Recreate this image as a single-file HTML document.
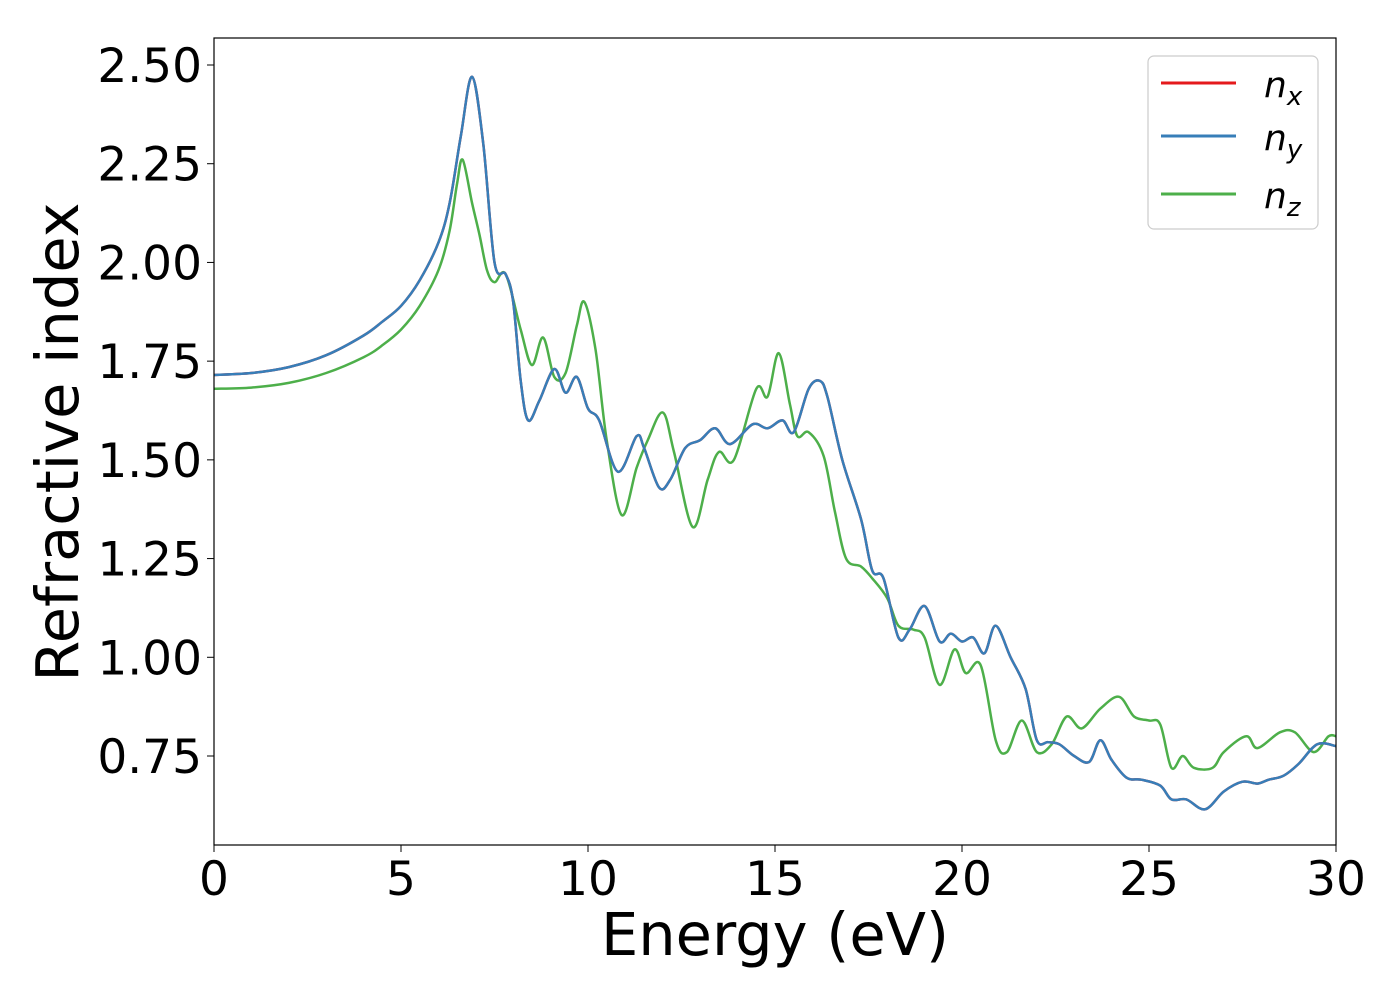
<!DOCTYPE html>
<html><head><meta charset="utf-8"><style>
body{margin:0;background:#fff}
svg text{font-family:"DejaVu Sans","Liberation Sans",sans-serif}
</style></head><body>
<svg id="chart" width="1400" height="1000" xmlns="http://www.w3.org/2000/svg">
<rect width="1400" height="1000" fill="#fff"/>
<g id="series"></g>
<rect x="214" y="38" width="1122" height="807" fill="none" stroke="#000" stroke-width="1.2"/>
<g id="axes"></g>
<text x="775" y="955" font-size="59" text-anchor="middle">Energy (eV)</text>
<text x="78" y="442" font-size="59" text-anchor="middle" transform="rotate(-90 78 442)">Refractive index</text>
<g>
<rect x="1148" y="56" width="170" height="173" rx="6" fill="#fff" stroke="#ccc" stroke-width="1.2"/>
<line x1="1161" y1="83" x2="1236" y2="83" stroke="#e41a1c" stroke-width="3"/>
<text x="1264" y="97" font-size="36" font-style="italic">n<tspan font-size="26" dy="8">x</tspan></text>
<line x1="1161" y1="136" x2="1236" y2="136" stroke="#377eb8" stroke-width="3"/>
<text x="1264" y="150" font-size="36" font-style="italic">n<tspan font-size="26" dy="8">y</tspan></text>
<line x1="1161" y1="194" x2="1236" y2="194" stroke="#4daf4a" stroke-width="3"/>
<text x="1264" y="208" font-size="36" font-style="italic">n<tspan font-size="26" dy="8">z</tspan></text>
</g>
</svg>
<script>
const xyEnergy=[0,1,2,3,4,4.5,5,5.5,6,6.3,6.6,6.9,7.2,7.5,7.8,8.0,8.2,8.4,8.7,9.1,9.4,9.7,10.0,10.3,10.8,11.3,11.5,11.9,12.2,12.6,13.0,13.4,13.8,14.4,14.8,15.2,15.5,15.9,16.2,16.4,16.8,17.3,17.6,17.9,18.3,18.6,19.0,19.4,19.7,20.0,20.3,20.6,20.9,21.3,21.7,22.0,22.3,22.6,23.0,23.4,23.7,24.0,24.4,24.8,25.3,25.6,26.0,26.5,27.0,27.5,27.9,28.2,28.6,29.0,29.5,30];
const nxValues=[1.715,1.72,1.735,1.765,1.815,1.85,1.89,1.955,2.05,2.15,2.32,2.47,2.30,2.0,1.97,1.90,1.70,1.60,1.65,1.73,1.67,1.71,1.63,1.60,1.47,1.56,1.53,1.43,1.45,1.53,1.55,1.58,1.54,1.59,1.58,1.60,1.57,1.68,1.70,1.66,1.50,1.35,1.22,1.20,1.05,1.07,1.13,1.04,1.06,1.04,1.05,1.01,1.08,1.00,0.92,0.79,0.785,0.78,0.75,0.735,0.79,0.74,0.695,0.69,0.675,0.64,0.64,0.615,0.66,0.685,0.68,0.69,0.70,0.73,0.78,0.775];
const nyValues=nxValues.slice();
const zEnergy=[0,1,2,3,4,4.5,5,5.5,6,6.3,6.5,6.65,6.9,7.1,7.3,7.5,7.8,8.2,8.5,8.8,9.1,9.4,9.7,9.9,10.2,10.5,10.9,11.3,11.6,12.0,12.3,12.8,13.2,13.5,13.9,14.5,14.8,15.1,15.4,15.6,15.9,16.3,16.6,16.9,17.3,17.6,18.0,18.3,18.7,19.0,19.4,19.8,20.1,20.5,20.9,21.2,21.6,22.0,22.4,22.8,23.2,23.7,24.2,24.6,25.0,25.3,25.6,25.9,26.2,26.7,27.0,27.6,27.9,28.5,28.9,29.4,29.8,30];
const nzValues=[1.68,1.683,1.695,1.72,1.76,1.79,1.83,1.89,1.98,2.08,2.2,2.26,2.15,2.07,1.98,1.95,1.97,1.83,1.74,1.81,1.71,1.72,1.84,1.90,1.78,1.55,1.36,1.48,1.55,1.62,1.52,1.33,1.45,1.52,1.50,1.68,1.66,1.77,1.64,1.56,1.57,1.51,1.37,1.25,1.23,1.20,1.15,1.08,1.07,1.05,0.93,1.02,0.96,0.98,0.79,0.76,0.84,0.76,0.78,0.85,0.82,0.87,0.90,0.85,0.84,0.83,0.72,0.75,0.72,0.72,0.76,0.80,0.77,0.81,0.81,0.76,0.80,0.80];
const xTicks=[0,5,10,15,20,25,30];
const xTickLabels=["0","5","10","15","20","25","30"];
const yTicks=[0.75,1.0,1.25,1.5,1.75,2.0,2.25,2.5];
const yTickLabels=["0.75","1.00","1.25","1.50","1.75","2.00","2.25","2.50"];

const NS='http://www.w3.org/2000/svg';
const sx=v=>214+(v-0)/30*1122;
const sy=v=>756-(v-0.75)*(691/1.75);
function pathFrom(xs,ys){
  const p=xs.map((x,i)=>[sx(x),sy(ys[i])]);
  let d='M'+p[0][0].toFixed(1)+','+p[0][1].toFixed(1);
  for(let i=0;i<p.length-1;i++){
    const p0=p[Math.max(i-1,0)],p1=p[i],p2=p[i+1],p3=p[Math.min(i+2,p.length-1)];
    const c1=[p1[0]+(p2[0]-p0[0])/6,p1[1]+(p2[1]-p0[1])/6];
    const c2=[p2[0]-(p3[0]-p1[0])/6,p2[1]-(p3[1]-p1[1])/6];
    d+='C'+c1[0].toFixed(1)+','+c1[1].toFixed(1)+' '+c2[0].toFixed(1)+','+c2[1].toFixed(1)+' '+p2[0].toFixed(1)+','+p2[1].toFixed(1);
  }
  return d;
}
const series=document.getElementById('series');
function addLine(xs,ys,color,name){
  const el=document.createElementNS(NS,'path');
  el.setAttribute('d',pathFrom(xs,ys));
  el.setAttribute('fill','none');
  el.setAttribute('stroke',color);
  el.setAttribute('stroke-width','2.5');
  
  
  series.appendChild(el);
}
addLine(zEnergy,nzValues,'#4daf4a','line-nz');
addLine(xyEnergy,nxValues,'#e41a1c','line-nx');
addLine(xyEnergy,nyValues,'#377eb8','line-ny');

const axes=document.getElementById('axes');
xTicks.forEach((t,i)=>{
  const l=document.createElementNS(NS,'line');
  l.setAttribute('x1',sx(t));l.setAttribute('x2',sx(t));
  l.setAttribute('y1',845);l.setAttribute('y2',852);
  l.setAttribute('stroke','#000');
  
  
  axes.appendChild(l);
  const tx=document.createElementNS(NS,'text');
  tx.setAttribute('x',sx(t));tx.setAttribute('y',895);
  tx.setAttribute('font-size','47');tx.setAttribute('text-anchor','middle');
  tx.textContent=xTickLabels[i];
  
  
  axes.appendChild(tx);
});
yTicks.forEach((t,i)=>{
  const l=document.createElementNS(NS,'line');
  l.setAttribute('x1',207);l.setAttribute('x2',214);
  l.setAttribute('y1',sy(t));l.setAttribute('y2',sy(t));
  l.setAttribute('stroke','#000');
  
  
  axes.appendChild(l);
  const tx=document.createElementNS(NS,'text');
  tx.setAttribute('x',202);tx.setAttribute('y',sy(t)+17);
  tx.setAttribute('font-size','47');tx.setAttribute('text-anchor','end');
  tx.textContent=yTickLabels[i];
  
  
  axes.appendChild(tx);
});
</script>
</body></html>
